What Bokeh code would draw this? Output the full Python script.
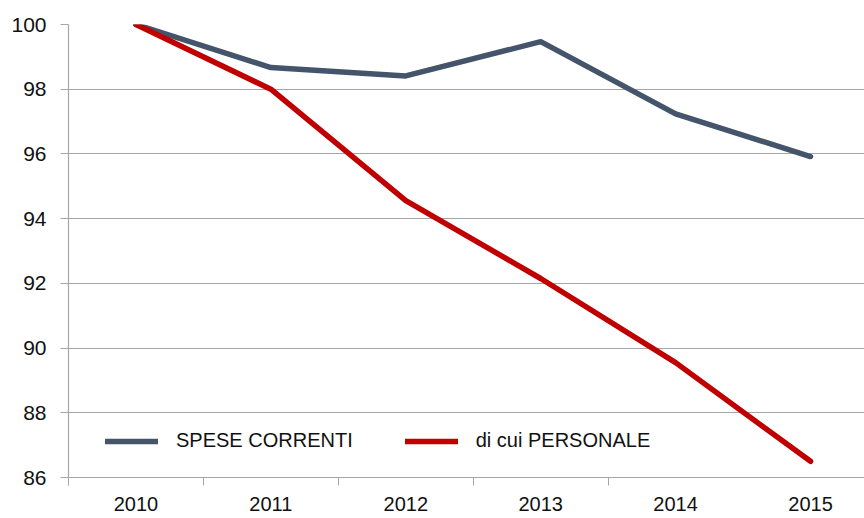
from bokeh.plotting import figure
from bokeh.models import FixedTicker, Legend, LegendItem, Range1d, ColumnDataSource
from bokeh.embed import file_html
from bokeh.resources import INLINE

years = ["2010", "2011", "2012", "2013", "2014", "2015"]
spese_correnti = [100.0, 98.67, 98.41, 99.47, 97.24, 95.92]
di_cui_personale = [100.0, 98.0, 94.56, 92.15, 89.55, 86.5]
y_ticks = [86, 88, 90, 92, 94, 96, 98, 100]
series_labels = ["SPESE CORRENTI", "di cui PERSONALE"]

xpos = list(range(len(years)))
src = ColumnDataSource(dict(x=xpos, spese=spese_correnti, pers=di_cui_personale))

FONT = "Liberation Sans"
GRID = "#a6a6a6"

p = figure(width=864, height=518, output_backend="svg", toolbar_location=None,
           x_range=Range1d(-0.5, 5.4), y_range=Range1d(86, 100),
           min_border_left=68, min_border_right=0, min_border_top=24, min_border_bottom=41)
p.outline_line_color = None
p.background_fill_color = "white"
p.border_fill_color = "white"

r1 = p.line("x", "spese", source=src, line_color="#44546A", line_width=5.5,
            line_join="round", line_cap="round")
r2 = p.line("x", "pers", source=src, line_color="#C00000", line_width=5.5,
            line_join="round", line_cap="round")

# x axis
p.xaxis.ticker = FixedTicker(ticks=xpos, minor_ticks=[i - 0.5 for i in xpos[:-1]] + [-0.5])
p.xaxis.major_label_overrides = {i: y for i, y in zip(xpos, years)}
p.xaxis.major_tick_line_color = None
p.xaxis.minor_tick_line_color = GRID
p.xaxis.minor_tick_out = 8
p.xaxis.minor_tick_in = 0
p.xaxis.axis_line_color = GRID
p.xaxis.axis_line_width = 1.2
p.xaxis.major_label_text_font = FONT
p.xaxis.major_label_text_font_size = "20px"
p.xaxis.major_label_text_color = "#111111"
p.xaxis.major_label_standoff = 11
p.xgrid.grid_line_color = None

# y axis
p.yaxis.ticker = FixedTicker(ticks=y_ticks)
p.yaxis.minor_tick_line_color = None
p.yaxis.major_tick_line_color = GRID
p.yaxis.major_tick_out = 8
p.yaxis.major_tick_in = 0
p.yaxis.axis_line_color = GRID
p.yaxis.axis_line_width = 1.2
p.yaxis.major_label_text_font = FONT
p.yaxis.major_label_text_font_size = "21px"
p.yaxis.major_label_text_color = "#111111"
p.yaxis.major_label_standoff = 14
p.ygrid.grid_line_color = GRID
p.ygrid.grid_line_width = 1.2

legend = Legend(items=[LegendItem(label=series_labels[0], renderers=[r1]),
                       LegendItem(label=series_labels[1], renderers=[r2])],
                orientation="horizontal", location=(37, 25),
                padding=0, margin=0, spacing=52,
                glyph_width=53, glyph_height=20, label_height=20,
                label_standoff=18, border_line_color=None,
                background_fill_alpha=0,
                label_text_font=FONT, label_text_font_size="20px",
                label_text_color="#111111")
p.add_layout(legend, "center")

open("out.html", "w").write(file_html(p, INLINE))
